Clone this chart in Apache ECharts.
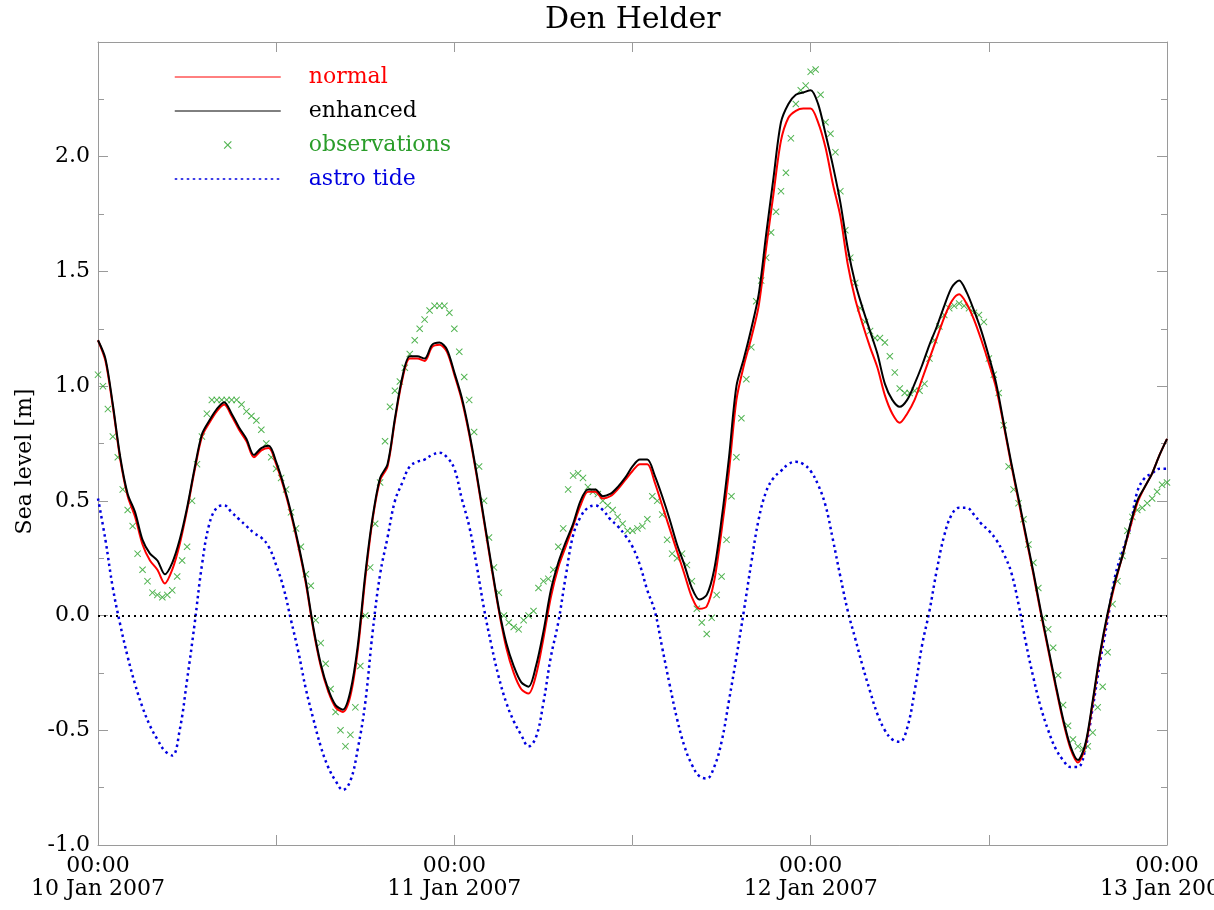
<!DOCTYPE html>
<html>
<head>
<meta charset="utf-8">
<script src="https://cdn.jsdelivr.net/npm/echarts@6/dist/echarts.min.js"></script>
<style>html,body{margin:0;padding:0;background:#fff}#c{width:1214px;height:910px}</style>
</head>
<body>
<div id="c"></div>
<script>
// model lines: every 30 min after 10 Jan 2007 00:00; observations: every 20 min
const lineStepHours = 0.5;
const obsStepHours = 1 / 3;
const dayLabels = ["00:00\n10 Jan 2007", "00:00\n11 Jan 2007", "00:00\n12 Jan 2007", "00:00\n13 Jan 2007"];
const yTickMax = 2.0;

const enhanced = [
 1.20,1.12,0.92,0.69,0.53,0.45,0.33,0.27,0.24,0.18,
 0.23,0.33,0.47,0.64,0.79,0.85,0.90,0.93,0.88,0.82,
 0.77,0.70,0.73,0.74,0.67,0.57,0.45,0.31,0.15,-0.05,
 -0.21,-0.32,-0.39,-0.41,-0.33,-0.13,0.18,0.43,0.60,0.66,
 0.86,1.04,1.13,1.13,1.12,1.18,1.19,1.16,1.06,0.95,
 0.80,0.62,0.42,0.22,0.03,-0.12,-0.22,-0.29,-0.31,-0.22,
 -0.07,0.11,0.23,0.32,0.40,0.50,0.55,0.55,0.52,0.53,
 0.56,0.60,0.65,0.68,0.68,0.61,0.52,0.42,0.31,0.22,
 0.12,0.07,0.09,0.20,0.42,0.69,1.00,1.12,1.25,1.40,
 1.66,1.91,2.15,2.23,2.27,2.28,2.29,2.23,2.10,1.96,
 1.80,1.60,1.45,1.34,1.24,1.14,1.01,0.94,0.91,0.94,
 1.01,1.09,1.18,1.26,1.35,1.43,1.46,1.41,1.33,1.24,
 1.13,1.01,0.84,0.67,0.51,0.35,0.19,0.02,-0.14,-0.30,
 -0.45,-0.57,-0.63,-0.56,-0.37,-0.16,0.01,0.15,0.26,0.39,
 0.50,0.56,0.62,0.70,0.77
];
const normal = [
 1.20,1.11,0.91,0.68,0.52,0.43,0.31,0.24,0.20,0.14,
 0.20,0.31,0.46,0.63,0.78,0.84,0.89,0.92,0.87,0.81,
 0.76,0.69,0.72,0.73,0.66,0.56,0.44,0.30,0.14,-0.06,
 -0.22,-0.33,-0.40,-0.42,-0.35,-0.15,0.16,0.42,0.59,0.65,
 0.85,1.03,1.12,1.12,1.11,1.17,1.18,1.15,1.05,0.94,
 0.79,0.61,0.41,0.21,0.02,-0.14,-0.25,-0.32,-0.34,-0.26,
 -0.10,0.08,0.21,0.30,0.39,0.48,0.54,0.54,0.51,0.52,
 0.55,0.59,0.63,0.66,0.66,0.58,0.48,0.38,0.28,0.18,
 0.08,0.03,0.04,0.15,0.37,0.63,0.94,1.09,1.21,1.35,
 1.60,1.84,2.07,2.17,2.20,2.21,2.21,2.15,2.04,1.88,
 1.74,1.53,1.38,1.27,1.17,1.08,0.96,0.88,0.84,0.88,
 0.94,1.03,1.12,1.21,1.30,1.37,1.40,1.36,1.29,1.20,
 1.10,0.99,0.83,0.66,0.50,0.34,0.18,0.01,-0.15,-0.31,
 -0.46,-0.58,-0.64,-0.57,-0.38,-0.17,0.00,0.14,0.26,0.38,
 0.49,0.56,0.62,0.70,0.77
];
const observations = [
 1.05,1.00,0.90,0.78,0.69,0.55,0.46,0.39,0.27,0.20,
 0.15,0.10,0.09,0.08,0.09,0.11,0.17,0.24,0.30,0.50,
 0.66,0.78,0.88,0.94,0.94,0.94,0.94,0.94,0.94,0.92,
 0.89,0.87,0.85,0.81,0.75,0.69,0.64,0.60,0.55,0.45,
 0.38,0.30,0.18,0.13,-0.02,-0.12,-0.21,-0.32,-0.42,-0.50,
 -0.57,-0.52,-0.40,-0.22,0.00,0.21,0.40,0.58,0.76,0.91,
 0.98,1.02,1.08,1.14,1.20,1.25,1.29,1.33,1.35,1.35,
 1.35,1.32,1.25,1.15,1.04,0.94,0.80,0.65,0.50,0.34,
 0.21,0.10,0.00,-0.03,-0.05,-0.06,-0.02,0.00,0.02,0.12,
 0.15,0.16,0.20,0.30,0.38,0.55,0.61,0.62,0.60,0.56,
 0.54,0.53,0.50,0.48,0.46,0.43,0.40,0.37,0.37,0.38,
 0.39,0.42,0.52,0.50,0.44,0.33,0.27,0.25,0.27,0.22,
 0.15,0.03,-0.03,-0.08,-0.01,0.09,0.17,0.33,0.52,0.69,
 0.86,1.03,1.17,1.37,1.46,1.56,1.67,1.76,1.85,1.93,
 2.08,2.23,2.29,2.31,2.37,2.38,2.27,2.15,2.10,2.02,
 1.85,1.68,1.56,1.45,1.34,1.28,1.24,1.21,1.21,1.19,
 1.13,1.06,0.99,0.97,0.97,0.98,0.98,1.01,1.12,1.20,
 1.26,1.31,1.34,1.35,1.36,1.35,1.34,1.32,1.31,1.28,
 1.12,1.05,0.97,0.83,0.65,0.55,0.49,0.42,0.31,0.23,
 0.12,-0.01,-0.06,-0.14,-0.26,-0.39,-0.48,-0.54,-0.57,-0.58,
 -0.57,-0.51,-0.40,-0.31,-0.16,0.05,0.15,0.26,0.37,0.43,
 0.46,0.47,0.49,0.51,0.54,0.57,0.58
];
const astroTide = [
 0.51,0.33,0.12,-0.04,-0.18,-0.30,-0.40,-0.48,-0.54,-0.59,
 -0.61,-0.50,-0.28,-0.04,0.22,0.40,0.47,0.48,0.45,0.42,
 0.39,0.36,0.34,0.30,0.22,0.12,-0.02,-0.16,-0.32,-0.45,
 -0.57,-0.66,-0.72,-0.76,-0.72,-0.58,-0.38,-0.07,0.18,0.34,
 0.50,0.58,0.65,0.67,0.68,0.70,0.71,0.69,0.64,0.51,
 0.39,0.22,0.03,-0.13,-0.27,-0.38,-0.46,-0.52,-0.57,-0.53,
 -0.38,-0.18,-0.03,0.17,0.35,0.43,0.47,0.48,0.46,0.42,
 0.39,0.35,0.30,0.22,0.11,0.02,-0.14,-0.30,-0.45,-0.57,
 -0.65,-0.70,-0.71,-0.66,-0.55,-0.37,-0.18,0.02,0.23,0.42,
 0.54,0.60,0.63,0.66,0.67,0.66,0.63,0.57,0.48,0.33,
 0.17,0.02,-0.10,-0.22,-0.33,-0.43,-0.50,-0.54,-0.55,-0.49,
 -0.33,-0.13,0.02,0.20,0.35,0.44,0.47,0.47,0.44,0.40,
 0.37,0.33,0.27,0.19,0.05,-0.12,-0.27,-0.40,-0.50,-0.58,
 -0.63,-0.66,-0.66,-0.58,-0.40,-0.20,-0.02,0.17,0.28,0.38,
 0.54,0.60,0.62,0.64,0.64
];

const pair = (arr, step) => arr.map((v, i) => [i * step, v]);
const FONT = '"DejaVu Serif", "Liberation Serif", serif';
const GRAY = '#9a9a9a';
const xMark = 'path://M0,1L1,0L5,4L9,0L10,1L6,5L10,9L9,10L5,6L1,10L0,9L4,5Z';

const chart = echarts.init(document.getElementById('c'), null, {renderer: 'canvas'});
const xCommon = {
  type: 'value', min: 0, max: 72, interval: 12,
  axisLine: {show: true, onZero: false, lineStyle: {color: GRAY, width: 1}},
  axisTick: {show: true, inside: true, length: 10, lineStyle: {color: GRAY}},
  splitLine: {show: false}
};
const yCommon = {
  type: 'value', min: -1, max: 2.5, interval: 0.5,
  axisLine: {show: true, onZero: false, lineStyle: {color: GRAY, width: 1}},
  axisTick: {show: true, inside: true, length: 10, lineStyle: {color: GRAY}},
  minorTick: {show: true, splitNumber: 2, length: 6, lineStyle: {color: GRAY}},
  splitLine: {show: false}
};
const hiddenSym = {opacity: 0};
chart.setOption({
  animation: false,
  backgroundColor: '#fff',
  title: {
    text: 'Den Helder', left: 540, top: 0,
    textStyle: {fontFamily: FONT, fontSize: 30, fontWeight: 'normal', color: '#000'}
  },
  legend: {
    orient: 'vertical', left: 169, top: 61, itemWidth: 106, itemHeight: 8, itemGap: 12,
    textStyle: {fontFamily: FONT, fontSize: 22, lineHeight: 22, padding: [0, 0, 0, 23]},
    data: [
      {name: 'normal', textStyle: {color: '#ff0000'}, itemStyle: hiddenSym, lineStyle: {width: 1}},
      {name: 'enhanced', textStyle: {color: '#000000'}, itemStyle: hiddenSym, lineStyle: {width: 1}},
      {name: 'observations', textStyle: {color: '#2a9d2a'}},
      {name: 'astro tide', textStyle: {color: '#0000e0'}, itemStyle: hiddenSym, lineStyle: {width: 1.5}}
    ]
  },
  grid: {left: 98, right: 47, top: 42, bottom: 65, show: false, containLabel: false, outerBoundsMode: 'none'},
  xAxis: [
    Object.assign({}, xCommon, {
      position: 'bottom',
      axisLabel: {
        show: true, margin: 10, color: '#000', fontFamily: FONT, fontSize: 22, lineHeight: 23,
        formatter: v => (v % 24 === 0 ? dayLabels[v / 24] : '')
      }
    }),
    Object.assign({}, xCommon, {position: 'top', axisLabel: {show: false}})
  ],
  yAxis: [
    Object.assign({}, yCommon, {
      position: 'left',
      name: 'Sea level [m]', nameLocation: 'middle', nameGap: 62, nameRotate: 90,
      nameTextStyle: {fontFamily: FONT, fontSize: 22, color: '#000', padding: [0, 36, 0, 0]},
      axisLabel: {
        show: true, margin: 8, color: '#000', fontFamily: FONT, fontSize: 22,
        formatter: v => (v > yTickMax + 1e-9 ? '' : v.toFixed(1))
      }
    }),
    Object.assign({}, yCommon, {position: 'right', axisLabel: {show: false}})
  ],
  series: [
    {
      name: 'astro tide', type: 'line', data: pair(astroTide, lineStepHours), smooth: 0.4,
      showSymbol: false, symbol: 'none',
      lineStyle: {color: '#0000e0', width: 2.5, type: [2.5, 3.5], cap: 'butt'},
      itemStyle: {color: '#0000e0'},
      markLine: {
        silent: true, symbol: ['none', 'none'], label: {show: false},
        lineStyle: {color: '#000', width: 2, type: [2, 4]},
        data: [{yAxis: 0}]
      },
      z: 2
    },
    {
      name: 'observations', type: 'scatter', data: pair(observations, obsStepHours),
      symbol: xMark, symbolSize: 7,
      itemStyle: {color: '#26a026'}, z: 3
    },
    {
      name: 'normal', type: 'line', data: pair(normal, lineStepHours), smooth: 0.3,
      showSymbol: false, symbol: 'none',
      lineStyle: {color: '#ff0000', width: 2}, itemStyle: {color: '#ff0000'}, z: 4
    },
    {
      name: 'enhanced', type: 'line', data: pair(enhanced, lineStepHours), smooth: 0.3,
      showSymbol: false, symbol: 'none',
      lineStyle: {color: '#000000', width: 2}, itemStyle: {color: '#000000'}, z: 5
    }
  ]
});
</script>
</body>
</html>
